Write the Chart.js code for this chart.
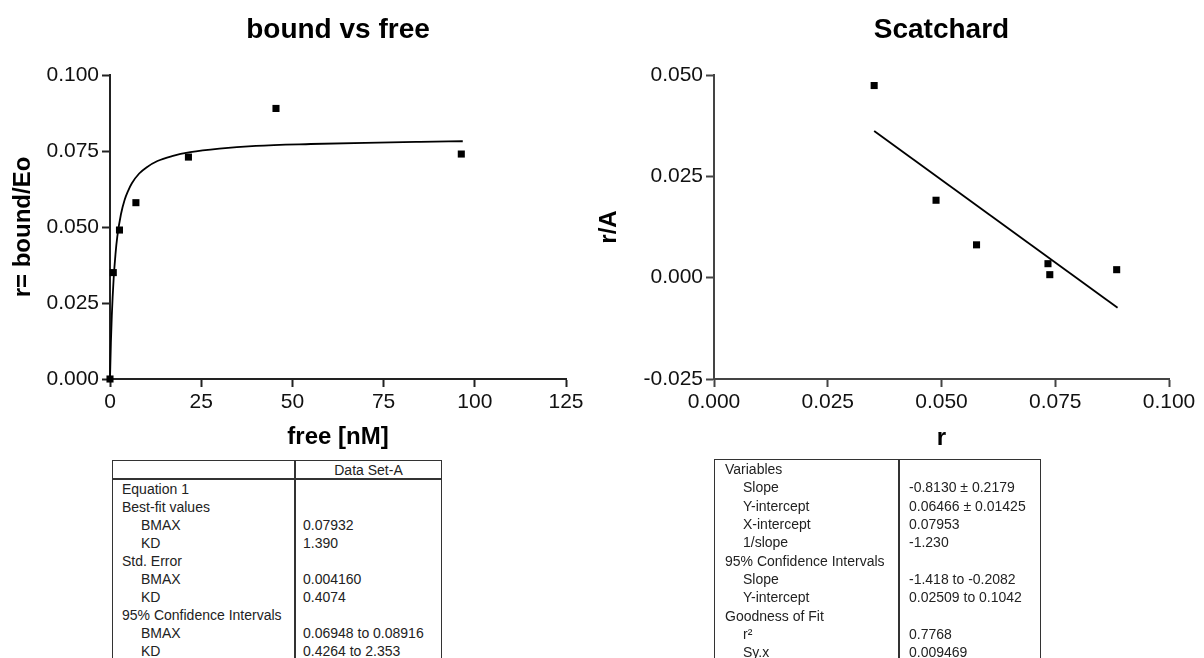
<!DOCTYPE html>
<html>
<head>
<meta charset="utf-8">
<script src="https://cdn.jsdelivr.net/npm/chart.js@4/dist/chart.umd.min.js"></script>
<style>
html,body{margin:0;padding:0;background:#fff;width:1204px;height:658px;overflow:hidden;position:relative;font-family:"Liberation Sans",Arial,sans-serif;}
#c1{position:absolute;left:0;top:0;}
#c2{position:absolute;left:595px;top:0;}
.tbl{position:absolute;border:1px solid #333;box-sizing:border-box;font-size:14px;color:#222;overflow:hidden;}
.vline{position:absolute;top:0;bottom:0;width:2px;background:#333;}
.hline{position:absolute;left:0;right:0;height:2px;background:#333;}
.row{position:absolute;left:0;right:0;white-space:nowrap;}
.row span{position:absolute;top:0;}
</style>
</head>
<body>
<canvas id="c1" width="600" height="460"></canvas>
<canvas id="c2" width="609" height="460"></canvas>
<div id="t1" class="tbl" style="left:112px;top:460px;width:330px;height:230px;"></div>
<div id="t2" class="tbl" style="left:714px;top:459px;width:327px;height:230px;"></div>
<script>
// ---- data: bound vs free ----
const boundFreeX = [0, 0.9, 2.6, 7.1, 21.5, 45.5, 96.3];
const boundFreeY = [0, 0.035, 0.049, 0.058, 0.073, 0.089, 0.074];
const fitCurveX = [0, 0.25, 0.5, 1, 1.5, 2, 3, 4, 5, 6, 8, 10, 13, 17, 22, 30, 40, 55, 70, 85, 96.7];
const fitCurveY = [0, 0.0121, 0.021, 0.033, 0.041, 0.0468, 0.0542, 0.0589, 0.062, 0.0644, 0.0676, 0.0696, 0.0717, 0.0733, 0.0746, 0.0758, 0.0767, 0.0773, 0.0777, 0.078, 0.0782];
const leftXTicks = [0, 25, 50, 75, 100, 125];
const leftYTicks = [0, 0.025, 0.05, 0.075, 0.1];

// ---- data: Scatchard ----
const scatX = [0.0352, 0.0488, 0.0577, 0.0734, 0.0738, 0.0885];
const scatY = [0.0474, 0.0191, 0.0081, 0.00345, 0.00074, 0.00197];
const regX = [0.0352, 0.0887];
const regY = [0.0362, -0.0074];
const rightXTicks = [0, 0.025, 0.05, 0.075, 0.1];
const rightYTicks = [-0.025, 0, 0.025, 0.05];

// ---- table texts ----
const leftHeader = ["", "Data Set-A"];
const leftRows = [
  ["Equation 1", "", 0], ["Best-fit values", "", 0],
  ["BMAX", "0.07932", 1], ["KD", "1.390", 1],
  ["Std. Error", "", 0],
  ["BMAX", "0.004160", 1], ["KD", "0.4074", 1],
  ["95% Confidence Intervals", "", 0],
  ["BMAX", "0.06948 to 0.08916", 1], ["KD", "0.4264 to 2.353", 1]
];
const rightRows = [
  ["Variables", "", 0],
  ["Slope", "-0.8130 \u00b1 0.2179", 1],
  ["Y-intercept", "0.06466 \u00b1 0.01425", 1],
  ["X-intercept", "0.07953", 1],
  ["1/slope", "-1.230", 1],
  ["95% Confidence Intervals", "", 0],
  ["Slope", "-1.418 to -0.2082", 1],
  ["Y-intercept", "0.02509 to 0.1042", 1],
  ["Goodness of Fit", "", 0],
  ["r\u00b2", "0.7768", 1],
  ["Sy.x", "0.009469", 1]
];

const FAM = '"Liberation Sans", Arial, sans-serif';
const zip = (xs, ys) => xs.map((x, i) => ({x: x, y: ys[i]}));

function makeScale(opts) {
  return {
    type: 'linear',
    min: opts.min, max: opts.max,
    afterBuildTicks: s => { s.ticks = opts.ticks.map(v => ({value: v})); },
    afterFit: s => { if (opts.width !== undefined) s.width = opts.width; if (opts.height !== undefined) s.height = opts.height; },
    grid: {display: true, drawOnChartArea: false, drawTicks: true, tickLength: 8, tickWidth: 2, tickColor: opts.color},
    border: {display: true, color: opts.color, width: 2},
    ticks: {font: {size: 21, family: FAM}, color: '#111', padding: 3, autoSkip: false, maxRotation: 0,
            callback: opts.fmt},
    title: {display: true, text: opts.title, color: '#000',
            font: {size: 24, weight: 'bold', family: FAM}, padding: opts.tpad}
  };
}

function makeChart(id, title, ds, xs, ys, padRight) {
  new Chart(document.getElementById(id), {
    type: 'scatter',
    data: {datasets: ds},
    options: {
      responsive: false, animation: false,
      layout: {padding: {left: 0, right: padRight, top: 0, bottom: 0}},
      plugins: {
        legend: {display: false}, tooltip: {enabled: false},
        title: {display: true, text: title, fullSize: false, color: '#000',
                font: {size: 28, weight: 'bold', family: FAM}, padding: {top: 13, bottom: 28.4}}
      },
      scales: {x: xs, y: ys}
    }
  });
}

makeChart('c1', 'bound vs free', [
  {data: zip(fitCurveX, fitCurveY), showLine: true, pointRadius: 0, borderColor: '#000', borderWidth: 1.8,
   cubicInterpolationMode: 'monotone', fill: false, clip: false},
  {data: zip(boundFreeX, boundFreeY), pointStyle: 'rect', pointRadius: 5, backgroundColor: '#000', borderWidth: 0, clip: false}
],
  makeScale({min: 0, max: 125, ticks: leftXTicks, height: 81, color: '#222', fmt: v => String(v),
             title: 'free [nM]', tpad: {top: 0, bottom: 8}}),
  makeScale({min: 0, max: 0.1, ticks: leftYTicks, width: 110, color: '#222', fmt: v => v.toFixed(3),
             title: 'r= bound/Eo', tpad: {top: 9, bottom: 0}}),
  34);

makeChart('c2', 'Scatchard', [
  {data: zip(regX, regY), showLine: true, pointRadius: 0, borderColor: '#000', borderWidth: 1.8, fill: false, clip: false},
  {data: zip(scatX, scatY), pointStyle: 'rect', pointRadius: 5, backgroundColor: '#000', borderWidth: 0, clip: false}
],
  makeScale({min: 0, max: 0.1, ticks: rightXTicks, height: 81, color: '#444', fmt: v => v.toFixed(3),
             title: 'r', tpad: {top: 0, bottom: 7}}),
  makeScale({min: -0.025, max: 0.05, ticks: rightYTicks, width: 119, color: '#444', fmt: v => v.toFixed(3),
             title: 'r/A', tpad: {top: 0, bottom: 0}}),
  35);

// ---- tables ----
function buildTable(el, rows, opt) {
  const div = document.createElement('div');
  div.className = 'vline'; div.style.left = opt.divX + 'px';
  el.appendChild(div);
  let top = 0;
  if (opt.header) {
    const h = document.createElement('div');
    h.className = 'row';
    h.style.top = '0px'; h.style.height = opt.headH + 'px'; h.style.lineHeight = opt.headH + 'px';
    const s = document.createElement('span');
    s.textContent = opt.header[1];
    s.style.left = (opt.divX + 2) + 'px'; s.style.right = '0px'; s.style.textAlign = 'center';
    h.appendChild(s);
    el.appendChild(h);
    const hl = document.createElement('div');
    hl.className = 'hline'; hl.style.top = (opt.headH - 1) + 'px';
    el.appendChild(hl);
    top = opt.headH + 1;
  }
  rows.forEach((r, i) => {
    const row = document.createElement('div');
    row.className = 'row';
    row.style.top = (top + i * opt.rowH) + 'px';
    row.style.height = opt.rowH + 'px'; row.style.lineHeight = opt.rowH + 'px';
    const a = document.createElement('span');
    a.textContent = r[0];
    a.style.left = (r[2] ? opt.indentX : opt.labelX) + 'px';
    row.appendChild(a);
    if (r[1]) {
      const b = document.createElement('span');
      b.textContent = r[1];
      b.style.left = opt.valX + 'px';
      row.appendChild(b);
    }
    el.appendChild(row);
  });
}
buildTable(document.getElementById('t1'), leftRows,
  {header: leftHeader, headH: 18, rowH: 18, divX: 181, labelX: 9, indentX: 28, valX: 190});
buildTable(document.getElementById('t2'), rightRows,
  {header: null, rowH: 18.33, divX: 183, labelX: 10, indentX: 28, valX: 194});
</script>
</body>
</html>
